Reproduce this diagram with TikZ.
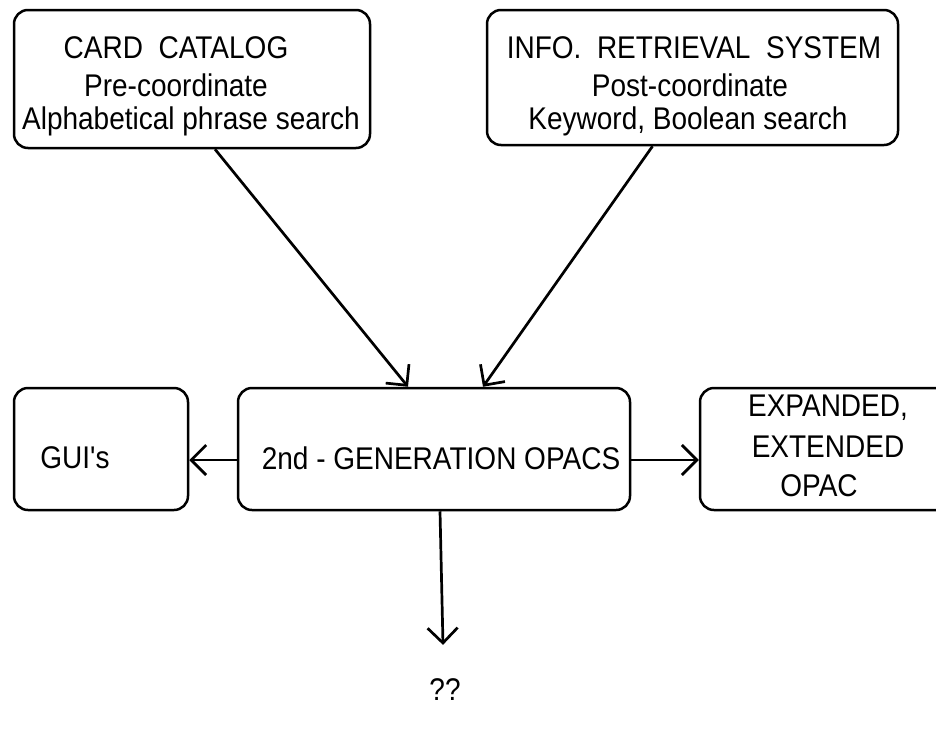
\documentclass[tikz,border=0pt]{standalone}
\usepackage{fontspec}
\setmainfont{Liberation Sans}
\usetikzlibrary{arrows.meta}
\newcommand{\tallt}[1]{\scalebox{1}[1.12]{#1}}
\begin{document}
\begin{tikzpicture}[x=1pt,y=-1pt,
  box/.style={draw,line width=2.5pt,rounded corners=14pt,inner sep=0pt},
  txt/.style={inner sep=0pt,font=\fontsize{28}{32}\selectfont},
  conn/.style={line width=2.7pt,-{Straight Barb[length=15pt,width=30pt,line width=2.7pt]}}]
\useasboundingbox (0,0) rectangle (936,745);
% boxes
\node[box,minimum width=356pt,minimum height=138pt] (card) at (192,79) {};
\node[box,minimum width=411pt,minimum height=135pt] (info) at (692.5,77.5) {};
\node[box,minimum width=392pt,minimum height=122pt] (mid) at (434,449) {};
\node[box,minimum width=174pt,minimum height=122pt] (gui) at (101,449) {};
\node[box,minimum width=260pt,minimum height=122pt] (exp) at (830,449) {};
% texts
\node[txt] (t1) at (176,48) {\tallt{CARD\ \ CATALOG}};
\node[txt] (t2) at (176,85) {\tallt{Pre-coordinate}};
\node[txt] (t3) at (191,121) {\tallt{Alphabetical phrase search}};
\node[txt] (t4) at (694,48) {\tallt{INFO.\ \ RETRIEVAL\ \ SYSTEM}};
\node[txt] (t5) at (690,85) {\tallt{Post-coordinate}};
\node[txt] (t6) at (688,121) {\tallt{Keyword, Boolean search}};
\node[txt] (t7) at (441,458) {\tallt{2nd - GENERATION OPACS}};
\node[txt] (t8) at (75,458) {\tallt{GUI\textquotesingle s}};
\node[txt] (t9) at (828,408) {\tallt{EXPANDED,}};
\node[txt] (t10) at (828,447) {\tallt{EXTENDED}};
\node[txt] (t11) at (819,486) {\tallt{OPAC}};
\node[txt] (q) at (445,690) {\tallt{??}};
% connectors
\draw[conn] ([xshift=23pt]card.south) -- ([xshift=-26pt]mid.north);
\draw[conn] ([xshift=-40pt]info.south) -- ([xshift=49pt]mid.north);
\draw[conn] ([yshift=-11pt]mid.west) -- ([yshift=-11pt]gui.east);
\draw[conn] ([yshift=-11pt]mid.east) -- ([yshift=-11pt]exp.west);
\draw[conn] ([xshift=6pt]mid.south) -- ([xshift=-2pt,yshift=34pt]q.north);
\end{tikzpicture}
\end{document}
